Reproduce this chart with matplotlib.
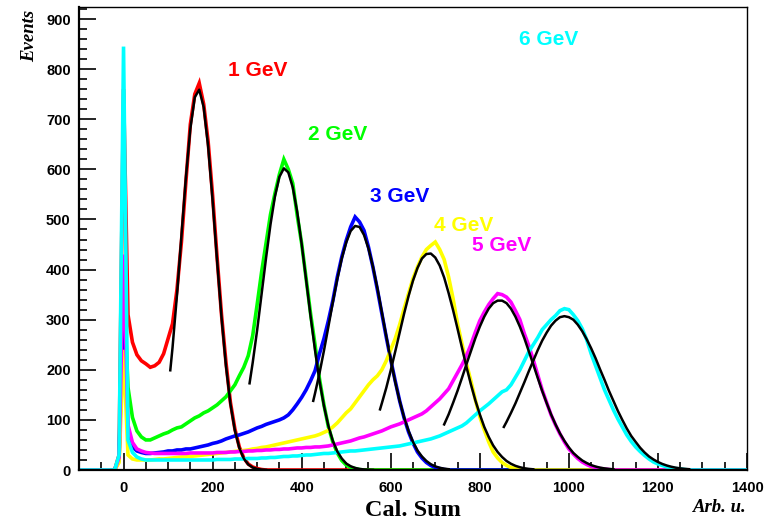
import numpy as np
import matplotlib
matplotlib.use("Agg")
import matplotlib.pyplot as plt
from matplotlib.ticker import MultipleLocator

# histogram contents, 10-unit bins, first bin centred at -20
hist_start = -20
red_counts = [0, 30, 760, 310, 255, 230, 218, 212, 205, 208, 215, 232, 262, 292, 360, 455, 575, 690,
              750, 772, 730, 655, 548, 425, 310, 215, 135, 82, 46, 24, 12, 6, 3, 1, 0]
green_counts = [0, 25, 380, 165, 105, 78, 66, 60, 60, 64, 68, 72, 75, 80, 84, 86, 92, 98, 104, 108, 114,
                118, 124, 130, 138, 146, 158, 170, 188, 205, 228, 268, 330, 395, 452, 510, 552, 590, 620,
                600, 572, 508, 452, 382, 312, 250, 182, 130, 86, 56, 34, 19, 10, 5, 3, 1]
blue_counts = [0, 20, 350, 70, 46, 38, 35, 33, 33, 34, 35, 36, 38, 38, 40, 40, 42, 42, 44, 46, 48, 50,
               53, 55, 58, 62, 65, 68, 70, 73, 76, 80, 84, 87, 91, 94, 97, 100, 104, 110, 120, 132, 145,
               160, 178, 198, 232, 262, 298, 338, 385, 425, 458, 485, 505, 495, 478, 445, 405, 360, 312,
               265, 220, 178, 138, 104, 76, 54, 36, 24, 15, 9, 5, 3, 1]
yellow_counts = [0, 15, 240, 30, 22, 20, 20, 20, 20, 21, 22, 22, 23, 24, 25, 26, 26, 27, 28, 29, 30, 31,
                 32, 33, 34, 35, 36, 37, 38, 39, 40, 42, 43, 45, 46, 48, 50, 52, 54, 56, 58, 60, 62, 64,
                 66, 68, 71, 75, 79, 86, 94, 104, 114, 122, 134, 146, 158, 170, 180, 188, 200, 218, 240,
                 262, 290, 322, 352, 382, 405, 425, 440, 448, 455, 440, 420, 385, 342, 292, 252, 212, 178,
                 140, 106, 80, 56, 36, 24, 15, 9, 5, 3, 2, 1, 0]
magenta_counts = [0, 25, 430, 90, 55, 42, 38, 35, 34, 33, 33, 33, 33, 33, 33, 33, 33, 34, 34, 34, 34,
                  34, 34, 35, 35, 35, 36, 36, 37, 37, 38, 38, 39, 39, 40, 40, 41, 41, 42, 42, 43, 44, 44,
                  45, 45, 46, 46, 47, 48, 50, 52, 54, 56, 58, 61, 64, 66, 69, 72, 75, 78, 82, 86, 89, 92,
                  96, 100, 104, 108, 112, 118, 126, 134, 142, 152, 162, 178, 194, 210, 228, 250, 275, 298,
                  315, 330, 342, 352, 350, 345, 335, 318, 300, 272, 248, 220, 190, 160, 135, 110, 90, 72,
                  56, 42, 32, 23, 16, 11, 7, 5, 3, 2, 1]
cyan_counts = [0, 30, 845, 60, 35, 26, 22, 20, 20, 20, 20, 20, 20, 20, 20, 20, 20, 20, 20, 20, 20, 20,
               20, 21, 21, 21, 21, 22, 22, 22, 23, 23, 23, 24, 24, 25, 25, 26, 27, 27, 28, 28, 29, 30, 30,
               31, 32, 33, 33, 34, 35, 36, 37, 38, 38, 39, 40, 41, 42, 43, 44, 45, 46, 47, 48, 50, 52, 54,
               56, 58, 60, 62, 65, 68, 72, 76, 80, 84, 88, 94, 102, 110, 118, 125, 132, 140, 148, 156, 160,
               170, 185, 200, 218, 236, 250, 264, 280, 290, 300, 308, 318, 322, 320, 310, 298, 282, 260,
               232, 208, 184, 160, 140, 120, 102, 86, 70, 57, 46, 37, 29, 22, 16, 12, 9, 6, 4, 3, 2, 1]

# gaussian fit curves, sampled every 10 units
red_fit_x = [105] + list(range(110, 321, 10))
red_fit_y = [199, 244, 349, 467, 583, 681, 744, 759, 724, 646, 538, 419, 305, 208, 132, 79, 44, 23, 11,
             5, 2.1, 0.8, 0.3]
green_fit_x = [283] + list(range(290, 561, 10))
green_fit_y = [173, 214, 279, 351, 423, 490, 546, 585, 602, 594, 564, 515, 451, 380, 307, 239, 178, 128,
               88, 58, 37, 23, 13, 7.5, 4.1, 2.1, 1.1, 0.5, 0.2]
blue_fit_x = [426] + list(range(430, 731, 10))
blue_fit_y = [138, 153, 193, 238, 286, 335, 381, 422, 454, 477, 487, 485, 469, 442, 406, 363, 315, 267,
              220, 176, 138, 105, 78, 56, 39, 27, 18, 11.5, 7.2, 4.4, 2.7, 1.6]
yellow_fit_x = [576] + list(range(580, 921, 10))
yellow_fit_y = [121, 133, 164, 199, 236, 274, 312, 347, 378, 403, 422, 431, 432, 424, 408, 384, 353, 319,
                282, 244, 206, 171, 139, 111, 86, 66, 49, 36, 26, 18, 12.4, 8.3, 5.5, 3.5, 2.2, 1.4]
magenta_fit_x = list(range(720, 1101, 10))
magenta_fit_y = [91, 111, 134, 158, 184, 211, 237, 263, 286, 306, 322, 333, 338, 338, 333, 322, 306, 286,
                 263, 237, 211, 184, 158, 134, 111, 91, 73, 58, 45, 34, 26, 19, 14, 9.8, 6.9, 4.7, 3.2,
                 2.1, 1.4]
cyan_fit_x = [854] + list(range(860, 1271, 10))
cyan_fit_y = [86, 96, 114, 133, 154, 175, 197, 218, 239, 258, 274, 288, 298, 305, 307, 305, 300, 290, 277,
              261, 243, 223, 201, 180, 158, 138, 118, 100, 83, 68, 56, 44.5, 35, 27, 21, 16, 12, 8.9, 6.5,
              4.6, 3.3, 2.3, 1.6]

labels = ["1 GeV", "2 GeV", "3 GeV", "4 GeV", "5 GeV", "6 GeV"]
label_pos = [(235, 798), (415, 669), (554, 545), (697, 487), (782, 449), (888, 860)]
colors = ["#ff0000", "#00ff00", "#0000ff", "#ffff00", "#ff00ff", "#00ffff"]

series = [red_counts, green_counts, blue_counts, yellow_counts, magenta_counts, cyan_counts]
fits = [(red_fit_x, red_fit_y), (green_fit_x, green_fit_y), (blue_fit_x, blue_fit_y),
        (yellow_fit_x, yellow_fit_y), (magenta_fit_x, magenta_fit_y), (cyan_fit_x, cyan_fit_y)]

fig = plt.figure(figsize=(7.77, 5.24), dpi=100)
ax = fig.add_axes([79 / 777, 1 - 470 / 524, (747 - 79) / 777, (470 - 7) / 524])

# bin centres over the full range -100..1400, empty outside the filled part
centres = np.arange(-100, 1401, 10)
off = (hist_start - (-100)) // 10
for counts, c in zip(series, colors):
    full = np.zeros(len(centres))
    full[off:off + len(counts)] = counts
    ax.plot(centres, full, color=c, lw=2.6, solid_joinstyle="miter")

for (fx, fy) in fits:
    ax.plot(fx, fy, color="black", lw=1.8)

for txt, (lx, ly), c in zip(labels, label_pos, colors):
    ax.text(lx, ly, txt, color=c, fontsize=15, fontweight="bold", family="Liberation Sans",
            va="center", ha="left")

ax.set_xlim(-100, 1400)
ax.set_ylim(0, 924)
ax.xaxis.set_major_locator(MultipleLocator(200))
ax.xaxis.set_minor_locator(MultipleLocator(50))
ax.yaxis.set_major_locator(MultipleLocator(100))
ax.yaxis.set_minor_locator(MultipleLocator(20))
ax.tick_params(which="both", direction="in", top=False, right=False, width=1.2)
ax.tick_params(which="major", length=12)
ax.tick_params(which="minor", length=6)
for lab in ax.get_xticklabels() + ax.get_yticklabels():
    lab.set_fontfamily("Liberation Sans")
    lab.set_fontweight("bold")
    lab.set_fontsize(10.5)
ax.tick_params(axis="x", pad=8)
ax.tick_params(axis="y", pad=6)
for s in ["left", "bottom"]:
    ax.spines[s].set_linewidth(1.6)
for s in ["top", "right"]:
    ax.spines[s].set_linewidth(1.0)

fig.text(413 / 777, 1 - 511 / 524, "Cal. Sum", family="Liberation Serif", fontweight="bold",
         fontsize=17.5, ha="center", va="center")
fig.text(747 / 777, 1 - 507 / 524, "Arb. u.", family="Liberation Serif", fontweight="bold",
         style="italic", fontsize=13.5, ha="right", va="center")
fig.text(30 / 777, 1 - 36 / 524, "Events", family="Liberation Serif", fontweight="bold",
         style="italic", fontsize=13.5, ha="center", va="center", rotation=90)

fig.savefig("out.png", dpi=100)
